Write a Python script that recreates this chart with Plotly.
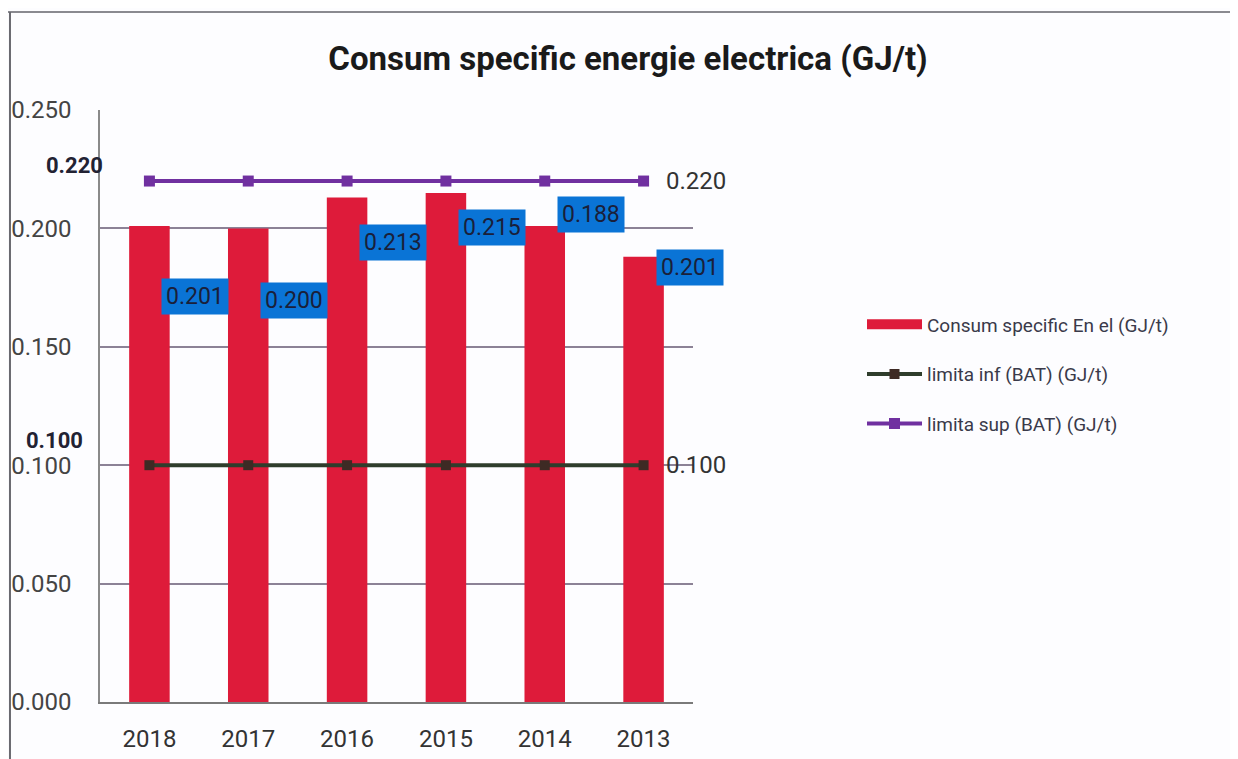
import plotly.graph_objects as go

years = ["2018", "2017", "2016", "2015", "2014", "2013"]
consum = [0.201, 0.200, 0.213, 0.215, 0.201, 0.188]
limita_inf = [0.100, 0.100, 0.100, 0.100, 0.100, 0.100]
limita_sup = [0.220, 0.220, 0.220, 0.220, 0.220, 0.220]
bar_label_text = ["0.201", "0.200", "0.213", "0.215", "0.188", "0.201"]
y_ticks = [0.000, 0.050, 0.100, 0.150, 0.200, 0.250]

# pixel offsets of the blue data labels relative to bar tops (layout only)
label_yshift = [-70, -72, -45, -35, 12, -11]

FONT = "Roboto, Arial"
RED = "#DE1B3A"
PURPLE = "#7030A0"
GREEN = "#2F3D2C"

fig = go.Figure()
fig.add_trace(go.Bar(x=years, y=consum, marker=dict(color=RED, line=dict(width=0)),
                     name="Consum specific En el (GJ/t)", showlegend=False))
# legend stand-in for the bar series (wide red rectangle like the original)
fig.add_trace(go.Scatter(x=[years[0]], y=[None], mode="lines", line=dict(color=RED, width=10),
                         name="Consum specific En el (GJ/t)", legendgroup="a"))
fig.add_trace(go.Scatter(x=years, y=limita_inf, mode="lines+markers",
                         line=dict(color=GREEN, width=4),
                         marker=dict(symbol="square", size=10, color="#3E2A24"),
                         name="limita inf (BAT) (GJ/t)", legendgroup="b"))
fig.add_trace(go.Scatter(x=years, y=limita_sup, mode="lines+markers",
                         line=dict(color=PURPLE, width=4),
                         marker=dict(symbol="square", size=11, color=PURPLE),
                         name="limita sup (BAT) (GJ/t)", legendgroup="c"))

ann = []
for i, (yr, v) in enumerate(zip(years, consum)):
    ann.append(dict(x=i, y=v, xref="x", yref="y", text=bar_label_text[i], showarrow=False,
                    xshift=46, yshift=label_yshift[i], bgcolor="#0A74D6",
                    font=dict(family=FONT, size=23, color="#1A1F3A"), borderpad=4))
last = len(years) - 1
# end-of-line labels
ann.append(dict(x=last, y=limita_sup[-1], text=f"{limita_sup[-1]:.3f}", showarrow=False,
                xanchor="left", xshift=20, font=dict(family=FONT, size=24, color="#333333")))
ann.append(dict(x=last, y=limita_inf[-1], text=f"{limita_inf[-1]:.3f}", showarrow=False,
                xanchor="left", xshift=20, font=dict(family=FONT, size=24, color="#333333")))
# start-of-line bold labels
ann.append(dict(x=0, y=limita_sup[0], text=f"<b>{limita_sup[0]:.3f}</b>", showarrow=False,
                xshift=-75, yshift=16, font=dict(family=FONT, size=22, color="#222233")))
ann.append(dict(x=0, y=limita_inf[0], text=f"<b>{limita_inf[0]:.3f}</b>", showarrow=False,
                xshift=-95, yshift=25, font=dict(family=FONT, size=22, color="#222233")))

fig.update_layout(
    width=1238, height=759,
    margin=dict(l=92, r=553, t=102, b=65),
    paper_bgcolor="#FDFDFF", plot_bgcolor="#FDFDFF",
    title=dict(text="<b>Consum specific energie electrica (GJ/t)</b>", x=0.5008, xanchor="center",
               y=0.934, yanchor="middle", font=dict(family=FONT, size=33, color="#1A1A1A")),
    bargap=0.59,
    annotations=ann,
    legend=dict(x=1.285, y=0.67, xanchor="left", yanchor="top", bgcolor="rgba(0,0,0,0)",
                font=dict(family=FONT, size=19, color="#3A3A4A"), itemwidth=55,
                tracegroupgap=22),
    shapes=[
        dict(type="line", xref="paper", yref="paper", x0=-0.17, x1=1.92, y0=1.1655, y1=1.1655,
             line=dict(color="#8A8A90", width=2)),
        dict(type="line", xref="paper", yref="paper", x0=-0.1518, x1=-0.1518, y0=1.1655, y1=-0.12,
             line=dict(color="#6A6A70", width=2)),
    ],
)
fig.update_yaxes(range=[0, 0.25], tickvals=y_ticks, tickformat=".3f", automargin=False,
                 showgrid=True, gridcolor="#8C8296", gridwidth=1.5,
                 showline=True, linecolor="#8A8A8A", linewidth=1.5,
                 tickfont=dict(family=FONT, size=24, color="#444444"),
                 ticklabelstandoff=22, zeroline=False)
fig.update_xaxes(type="category", categoryorder="array", categoryarray=years,
                 range=[-0.5, len(years) - 0.5], automargin=False,
                 showline=True, linecolor="#7A7A7A", linewidth=2,
                 tickfont=dict(family=FONT, size=24, color="#333333"),
                 ticklabelstandoff=14)

fig.write_html("out.html")
